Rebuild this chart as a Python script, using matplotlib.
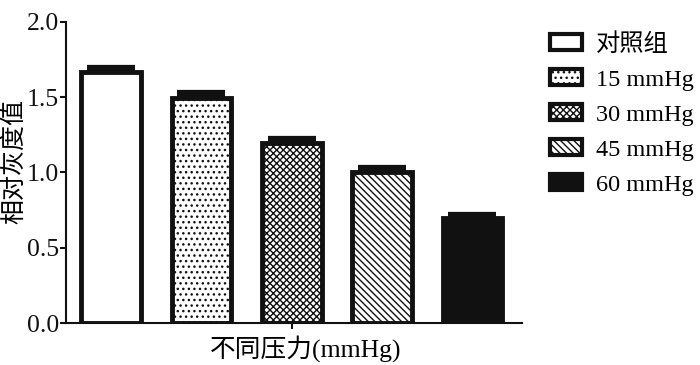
import matplotlib
matplotlib.use("Agg")
import matplotlib.pyplot as plt
from matplotlib.patches import Patch

plt.rcParams['font.family'] = ['Liberation Serif', 'Noto Sans CJK SC']
plt.rcParams['hatch.linewidth'] = 1.0

categories = ['对照组', '15 mmHg', '30 mmHg', '45 mmHg', '60 mmHg']
values = [1.665, 1.495, 1.195, 1.005, 0.695]
errors = [0.03, 0.03, 0.025, 0.025, 0.02]
hatches = ['', '...', 'xxxxx', '\\\\\\\\\\', '']
faces = ['white', 'white', 'white', 'white', '#111111']
yticks = [0.0, 0.5, 1.0, 1.5, 2.0]

fig = plt.figure(figsize=(7.0, 3.65), dpi=100)
ax = fig.add_axes([0.094, 0.115, 0.652, 0.825])

x = list(range(len(categories)))
bars = ax.bar(x, values, width=0.66, color=faces, edgecolor='#111111',
              linewidth=3.5, zorder=2)
for b, h in zip(bars, hatches):
    b.set_hatch(h)
ax.errorbar(x, values, yerr=[[0]*len(errors), errors], fmt='none',
            ecolor='#111111', elinewidth=3, capsize=17, capthick=4.5, zorder=1)

ax.set_xlim(-0.5, 4.55)
ax.set_ylim(0, 2.0)
ax.set_yticks(yticks)
ax.set_yticklabels([f'{t:.1f}' for t in yticks], fontsize=18.5)
ax.set_xticks([2])
ax.set_xticklabels([''])
ax.tick_params(axis='both', direction='out', length=4, width=1.5, colors='#111111', pad=1)
for s in ['top', 'right']:
    ax.spines[s].set_visible(False)
for s in ['left', 'bottom']:
    ax.spines[s].set_linewidth(1.5)
    ax.spines[s].set_color('#111111')
ax.set_ylabel('相对灰度值', fontsize=18)
ax.yaxis.set_label_coords(-0.088, 0.535)
ax.set_xlabel('不同压力(mmHg)', fontsize=18.5)
ax.xaxis.set_label_coords(0.526, -0.04)
ax.xaxis.label.set_verticalalignment('top')

handles = [Patch(facecolor=f, edgecolor='#111111', linewidth=3, hatch=h)
           for f, h in zip(faces, hatches)]
fig.legend(handles, categories, loc='upper left', bbox_to_anchor=(0.785, 0.91),
           frameon=False, fontsize=17.5, handlelength=1.35, handleheight=0.62,
           labelspacing=0.56, handletextpad=0.55, borderaxespad=0, borderpad=0)

fig.savefig('out.png', dpi=100)
